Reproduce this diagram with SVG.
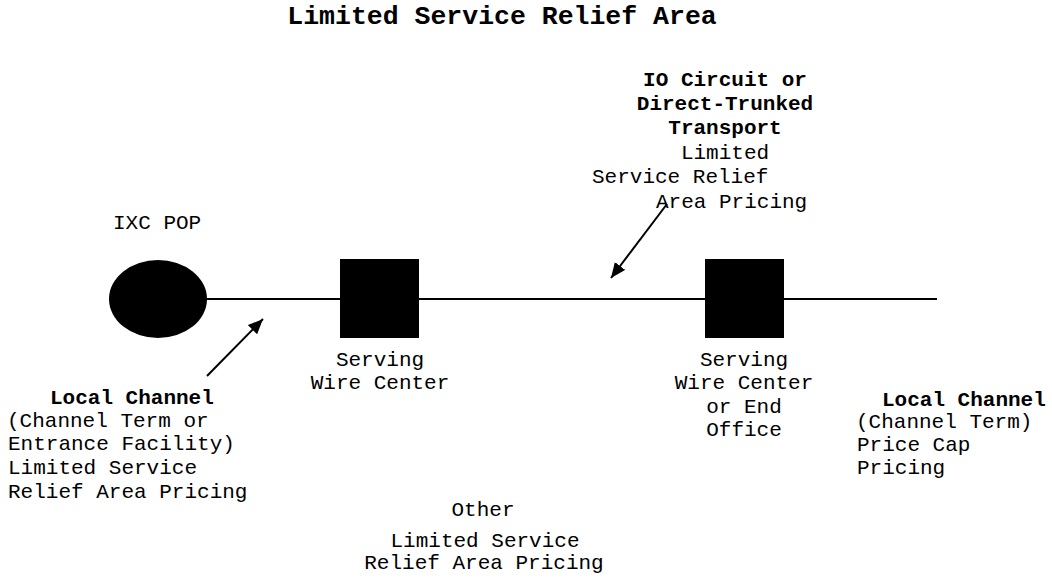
<svg xmlns="http://www.w3.org/2000/svg" width="1052" height="578" viewBox="0 0 1052 578">
<style>
text{font-family:"Liberation Mono","Courier New",monospace;font-size:21px;fill:#000}
.b{font-weight:bold}
.m{text-anchor:middle}
.ln{stroke:#000;stroke-width:2;fill:none}
</style>
<defs>
<marker id="ah" markerUnits="userSpaceOnUse" markerWidth="16" markerHeight="14" refX="15" refY="6.5" orient="auto">
<path d="M0,0 L15,6.5 L0,13 z" fill="#000"/>
</marker>
</defs>
<rect width="1052" height="578" fill="#fff"/>
<text class="b m" x="502" y="24" style="font-size:26.5px">Limited Service Relief Area</text>
<g id="connectors">
<line class="ln" x1="207" y1="299" x2="937" y2="299"/>
<line class="ln" x1="207" y1="376" x2="263" y2="319" marker-end="url(#ah)"/>
<line class="ln" x1="667" y1="204" x2="611" y2="278" marker-end="url(#ah)"/>
</g>
<g id="ixc-pop">
<ellipse cx="158" cy="299" rx="49" ry="39" fill="#000"/>
<text x="113" y="229">IXC POP</text>
</g>
<g id="serving-wire-center">
<rect x="340" y="259" width="79" height="79" fill="#000"/>
<text class="m" x="380" y="366">Serving</text>
<text class="m" x="380" y="389">Wire Center</text>
</g>
<g id="serving-wire-center-end-office">
<rect x="705" y="259" width="79" height="79" fill="#000"/>
<text class="m" x="744" y="366">Serving</text>
<text class="m" x="744" y="389">Wire Center</text>
<text class="m" x="744" y="413">or End</text>
<text class="m" x="744" y="436">Office</text>
</g>
<g id="io-circuit-label">
<text class="b m" x="725" y="86">IO Circuit or</text>
<text class="b m" x="725" y="110">Direct-Trunked</text>
<text class="b m" x="725" y="134">Transport</text>
<text class="m" x="725" y="159">Limited</text>
<text x="592" y="183">Service Relief</text>
<text x="656" y="208">Area Pricing</text>
</g>
<g id="local-channel-left">
<text class="b" x="50" y="404">Local Channel</text>
<text x="7" y="427">(Channel Term or</text>
<text x="8" y="450">Entrance Facility)</text>
<text x="8" y="474">Limited Service</text>
<text x="8" y="498">Relief Area Pricing</text>
</g>
<g id="local-channel-right">
<text class="b" x="882" y="406">Local Channel</text>
<text x="856" y="428">(Channel Term)</text>
<text x="857" y="451">Price Cap</text>
<text x="857" y="474">Pricing</text>
</g>
<g id="other-label">
<text class="m" x="483" y="516">Other</text>
<text class="m" x="485" y="547">Limited Service</text>
<text class="m" x="484" y="569">Relief Area Pricing</text>
</g>
</svg>
